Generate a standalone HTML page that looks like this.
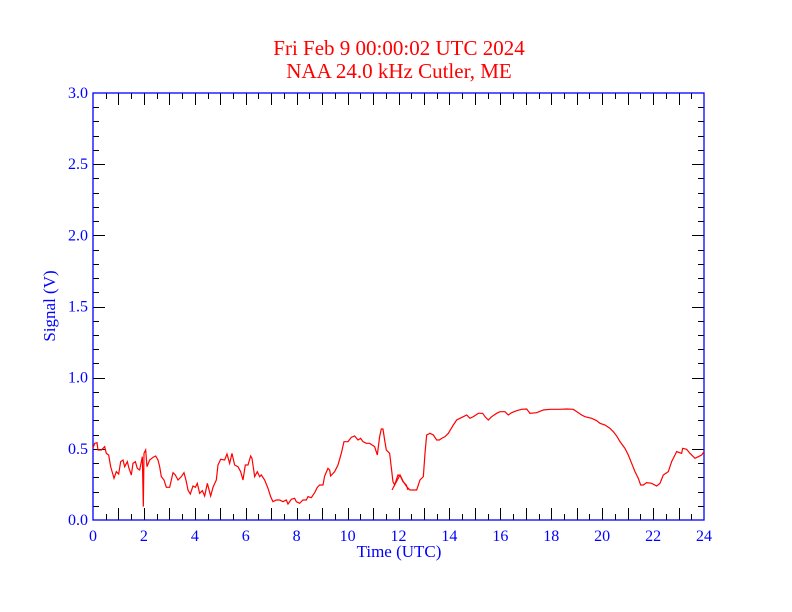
<!DOCTYPE html>
<html><head><meta charset="utf-8"><style>
html,body{margin:0;padding:0;background:#fff;}
svg{display:block;}
text{font-family:"Liberation Serif",serif;}
</style></head><body>
<svg width="792" height="612" xmlns="http://www.w3.org/2000/svg">
<rect width="792" height="612" fill="#fff"/>
<text x="399" y="55" fill="#ff0000" font-size="21" text-anchor="middle">Fri Feb 9 00:00:02 UTC 2024</text>
<text x="399" y="78" fill="#ff0000" font-size="21" text-anchor="middle">NAA 24.0 kHz Cutler, ME</text>
<g id="ticks" stroke="#000" stroke-width="1"></g>
<rect x="93" y="93" width="611" height="427" fill="none" stroke="#0000ff" stroke-width="1.3"/>
<g id="lbl" fill="#0000ff" font-size="16"></g>
<text x="399" y="557" fill="#0000ff" font-size="17" text-anchor="middle">Time (UTC)</text>
<text transform="translate(55,306) rotate(-90)" fill="#0000ff" font-size="17" text-anchor="middle">Signal (V)</text>
<g fill="none" stroke="#ff0000" stroke-width="1.2">
<polyline vector-effect="non-scaling-stroke" transform="translate(88,400) scale(0.3333)" points="15,145 20,130 27,128 30,150 40,150 50,140 55,160 62,165 68,200 78,235 85,215 92,222 98,185 105,180 110,200 118,185 123,205 130,225 135,190 142,185 148,205 155,210 160,185 163,170 166,320 168,160 173,150 177,200 185,180 195,172 203,168 210,180 215,200 220,230 228,240 235,262 245,262 255,218 262,225 270,240 280,230 288,218 295,245 300,270 307,282 315,258 322,262 328,250 335,280 343,272 350,288 358,250 362,265 368,288 375,262 385,240 390,195 398,178 410,180 417,162 425,190 432,160 440,195 450,200 458,215 465,240 472,195 480,195 488,168 492,175 500,230 508,215 515,230 520,225 530,240 540,265 548,290 555,305 565,300 575,300 585,305 595,300 600,312 610,298 620,295 625,305 635,310 645,300 655,300 660,290 670,293 680,278 688,262 695,255 705,255 710,228 720,205 725,210 728,228 740,215 750,195 760,160 768,125 780,125 790,112 800,108 810,120 818,115 825,125 835,130 845,130 860,140 868,165 875,110 880,87 885,87 890,120 895,150 905,160 915,245 920,255 930,225 937,228 945,245 955,255 960,270 "/>
<polyline vector-effect="non-scaling-stroke" transform="translate(400,400) scale(0.3333)" points="-24,270 0,225 10,245 20,260 30,270 50,270 60,240 70,230 75,160 80,105 90,100 100,105 110,120 118,120 125,115 135,110 145,100 160,75 170,60 180,55 190,50 200,45 210,55 220,50 235,40 248,40 255,50 265,60 275,50 290,40 300,35 315,35 325,45 335,38 350,32 365,28 380,27 390,40 410,38 430,30 450,28 480,28 500,27 520,28 530,35 545,45 555,50 575,55 590,62 600,70 615,75 630,85 640,95 650,108 660,125 675,145 685,165 695,190 705,215 715,235 722,255 730,255 740,248 755,250 770,258 780,250 790,225 805,215 815,185 825,165 830,155 845,160 848,145 860,148 870,160 885,175 895,170 905,165 912,155"/>
</g>
<script>
var t=document.getElementById('ticks'),l=document.getElementById('lbl'),ns='http://www.w3.org/2000/svg';
function ln(x1,y1,x2,y2){var e=document.createElementNS(ns,'line');e.setAttribute('x1',x1);e.setAttribute('y1',y1);e.setAttribute('x2',x2);e.setAttribute('y2',y2);t.appendChild(e);}
function tx(x,y,s,a){var e=document.createElementNS(ns,'text');e.setAttribute('x',x);e.setAttribute('y',y);e.setAttribute('text-anchor',a);e.textContent=s;l.appendChild(e);}
for(var i=1;i<48;i++){var x=Math.round(93+i*611/48)+0.5;var L=(i%2==0)?12:6;ln(x,520,x,520-L);ln(x,93,x,93+L);}
for(var h=0;h<=24;h+=2){tx(93+h*611/24,541,String(h),'middle');}
for(var j=1;j<30;j++){var y=Math.round(520-j*427/30)+0.5;var L=(j%5==0)?12:6;ln(93,y,93+L,y);ln(704,y,704-L,y);}
for(var k=0;k<=6;k++){tx(88,520-k*427/6+5,(k*0.5).toFixed(1),'end');}
</script>
</svg>
</body></html>
